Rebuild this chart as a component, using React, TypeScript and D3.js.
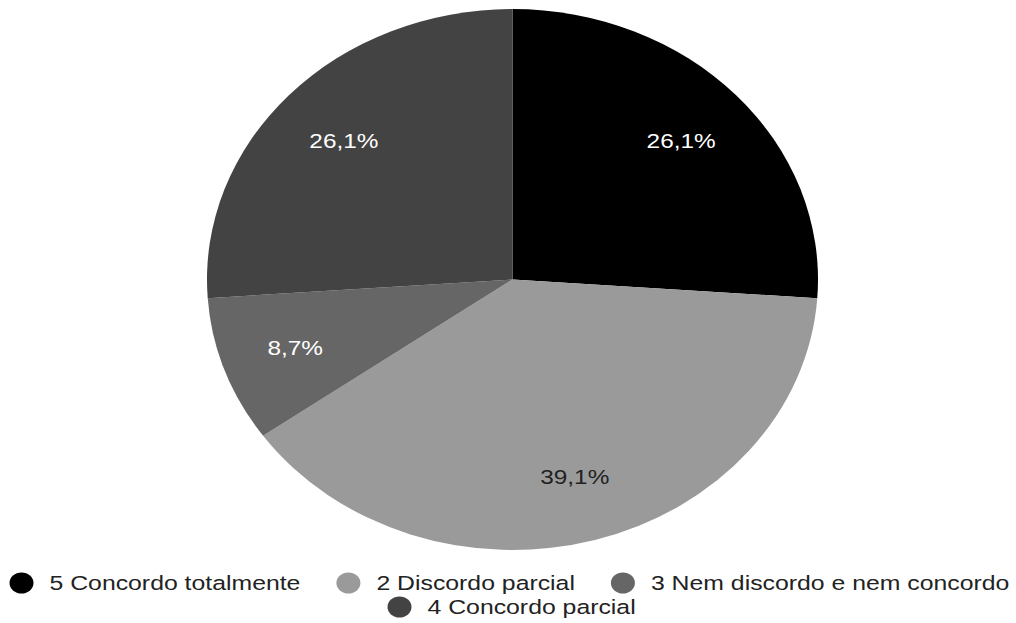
import React, { useEffect, useRef } from "react";
import * as d3 from "d3";

const categories = ["5 Concordo totalmente", "2 Discordo parcial", "3 Nem discordo e nem concordo", "4 Concordo parcial"];
const values = [26.1, 39.1, 8.7, 26.1];
const labels = ["26,1%", "39,1%", "8,7%", "26,1%"];
const colors = ["#000000", "#9a9a9a", "#666666", "#434343"];
const labelColors = ["#ffffff", "#222222", "#ffffff", "#ffffff"];
const legendRows = [[0, 1, 2], [3]];

export default function App() {
  const ref = useRef<SVGSVGElement>(null);
  useEffect(() => {
    const svg = d3.select(ref.current);
    svg.selectAll("*").remove();
    const cx = 512.5, cy = 279.5, ry = 270.5, rx = 305.5;
    const sx = rx / ry;
    const textSx = 1.16;

    const pie = d3.pie<number>().sort(null).value((d) => d);
    const arcs = pie(values);
    const arc = d3.arc<d3.PieArcDatum<number>>().innerRadius(0).outerRadius(ry);
    const labelArc = d3.arc<d3.PieArcDatum<number>>().innerRadius(ry * 0.755).outerRadius(ry * 0.755);

    const g = svg.append("g").attr("transform", `translate(${cx},${cy}) scale(${sx},1)`);
    g.selectAll("path").data(arcs).enter().append("path")
      .attr("d", arc as any)
      .attr("fill", (_d, i) => colors[i]);

    const lg = svg.append("g").attr("transform", `translate(${cx},${cy})`);
    arcs.forEach((a, i) => {
      const [x, y] = labelArc.centroid(a);
      lg.append("text")
        .attr("transform", `translate(${x * sx},${y}) scale(${textSx},1)`)
        .attr("text-anchor", "middle")
        .attr("dominant-baseline", "central")
        .attr("font-family", "Liberation Sans, Arial, sans-serif")
        .attr("font-size", 21)
        .attr("fill", labelColors[i])
        .text(labels[i]);
    });

    // legend
    const rowY = [583, 607];
    const rowStart = [21.5, 399.5];
    const legSx = 1.21;
    const fs = 20.5;
    legendRows.forEach((row, ri) => {
      let x = rowStart[ri];
      row.forEach((idx) => {
        svg.append("ellipse")
          .attr("cx", x).attr("cy", rowY[ri])
          .attr("rx", 12).attr("ry", 10.5)
          .attr("fill", colors[idx]);
        const t = svg.append("text")
          .attr("transform", `translate(${x + 28},${rowY[ri]}) scale(${legSx},1)`)
          .attr("dominant-baseline", "central")
          .attr("font-family", "Liberation Sans, Arial, sans-serif")
          .attr("font-size", fs)
          .attr("fill", "#222222")
          .text(categories[idx]);
        const w = (t.node() as SVGTextElement).getComputedTextLength() * legSx;
        x = x + 28 + w + 48;
      });
    });
  }, []);
  return (
    <svg ref={ref} width={1016} height={623} style={{ position: "absolute", left: 0, top: 0, background: "#fff" }} />
  );
}
